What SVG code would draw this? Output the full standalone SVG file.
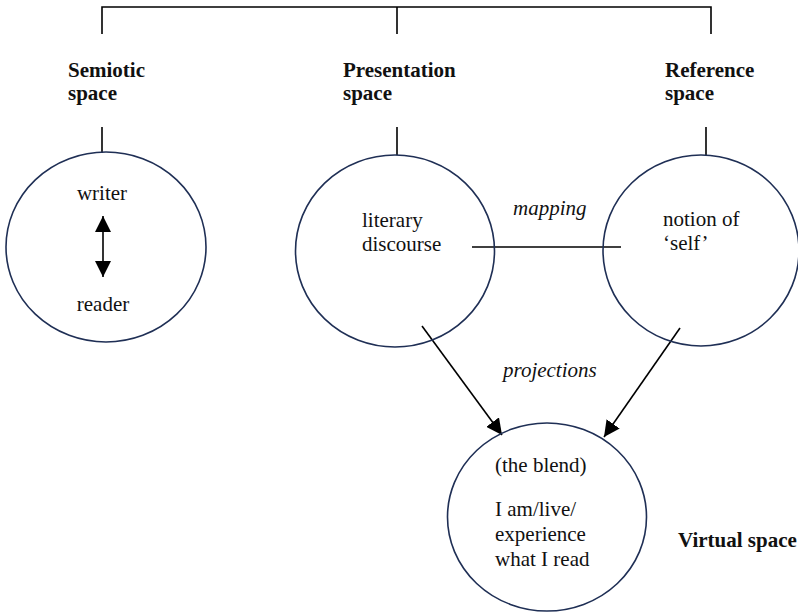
<svg xmlns="http://www.w3.org/2000/svg" width="798" height="613" viewBox="0 0 798 613">
  <defs>
    <style>
      .space { fill: none; stroke: #1f2f55; stroke-width: 1.6; }
      .wire { fill: none; stroke: #000; stroke-width: 1.6; }
      .txt { font-family: 'Liberation Serif', 'DejaVu Serif', serif; font-size: 21px; fill: #111; }
      .head { font-weight: bold; }
      .it { font-style: italic; }
    </style>
    <marker id="tri" viewBox="0 0 16 16" refX="16" refY="8" markerWidth="16" markerHeight="16" markerUnits="userSpaceOnUse" orient="auto-start-reverse">
      <path d="M0,0 L16,8 L0,16 z" fill="#000"/>
    </marker>
  </defs>
  <rect width="798" height="613" fill="#fff"/>

  <!-- bracket and links -->
  <g id="connectors" font-family="Liberation Serif, serif">
    <path class="wire" d="M102,34 V7 H711 V34 M397,7 V34"/>
    <line class="wire" x1="102" y1="127" x2="102" y2="153"/>
    <line class="wire" x1="397" y1="127" x2="397" y2="155"/>
    <line class="wire" x1="706" y1="127" x2="706" y2="155"/>
    <line class="wire" x1="472" y1="247" x2="621" y2="247"/>
    <line class="wire" x1="103" y1="216" x2="103" y2="277" marker-start="url(#tri)" marker-end="url(#tri)"/>
    <line class="wire" x1="422" y1="326" x2="502" y2="435" marker-end="url(#tri)"/>
    <line class="wire" x1="680" y1="328" x2="604" y2="437" marker-end="url(#tri)"/>
    <text class="txt it" x="513" y="215">mapping</text>
    <text class="txt it" x="503" y="377">projections</text>
  </g>

  <g id="semiotic" font-family="Liberation Serif, serif">
    <text class="txt head" x="68" y="77">Semiotic</text>
    <text class="txt head" x="68" y="100">space</text>
    <ellipse class="space" cx="106" cy="247" rx="100" ry="95"/>
    <text class="txt" x="102" y="200" text-anchor="middle">writer</text>
    <text class="txt" x="103" y="311" text-anchor="middle">reader</text>
  </g>

  <g id="presentation" font-family="Liberation Serif, serif">
    <text class="txt head" x="343" y="77">Presentation</text>
    <text class="txt head" x="343" y="100">space</text>
    <ellipse class="space" cx="395" cy="251" rx="99.5" ry="96"/>
    <text class="txt" x="362" y="227">literary</text>
    <text class="txt" x="362" y="251">discourse</text>
  </g>

  <g id="reference" font-family="Liberation Serif, serif">
    <text class="txt head" x="665" y="77">Reference</text>
    <text class="txt head" x="665" y="100">space</text>
    <ellipse class="space" cx="701" cy="250.5" rx="98" ry="95.5"/>
    <text class="txt" x="663" y="226">notion of</text>
    <text class="txt" x="663" y="250">‘self’</text>
  </g>

  <g id="virtual" font-family="Liberation Serif, serif">
    <ellipse class="space" cx="547" cy="517" rx="99.5" ry="94"/>
    <text class="txt" x="495" y="472">(the blend)</text>
    <text class="txt" x="495" y="516">I am/live/</text>
    <text class="txt" x="495" y="541">experience</text>
    <text class="txt" x="495" y="566">what I read</text>
    <text class="txt head" x="678" y="547">Virtual space</text>
  </g>
</svg>
